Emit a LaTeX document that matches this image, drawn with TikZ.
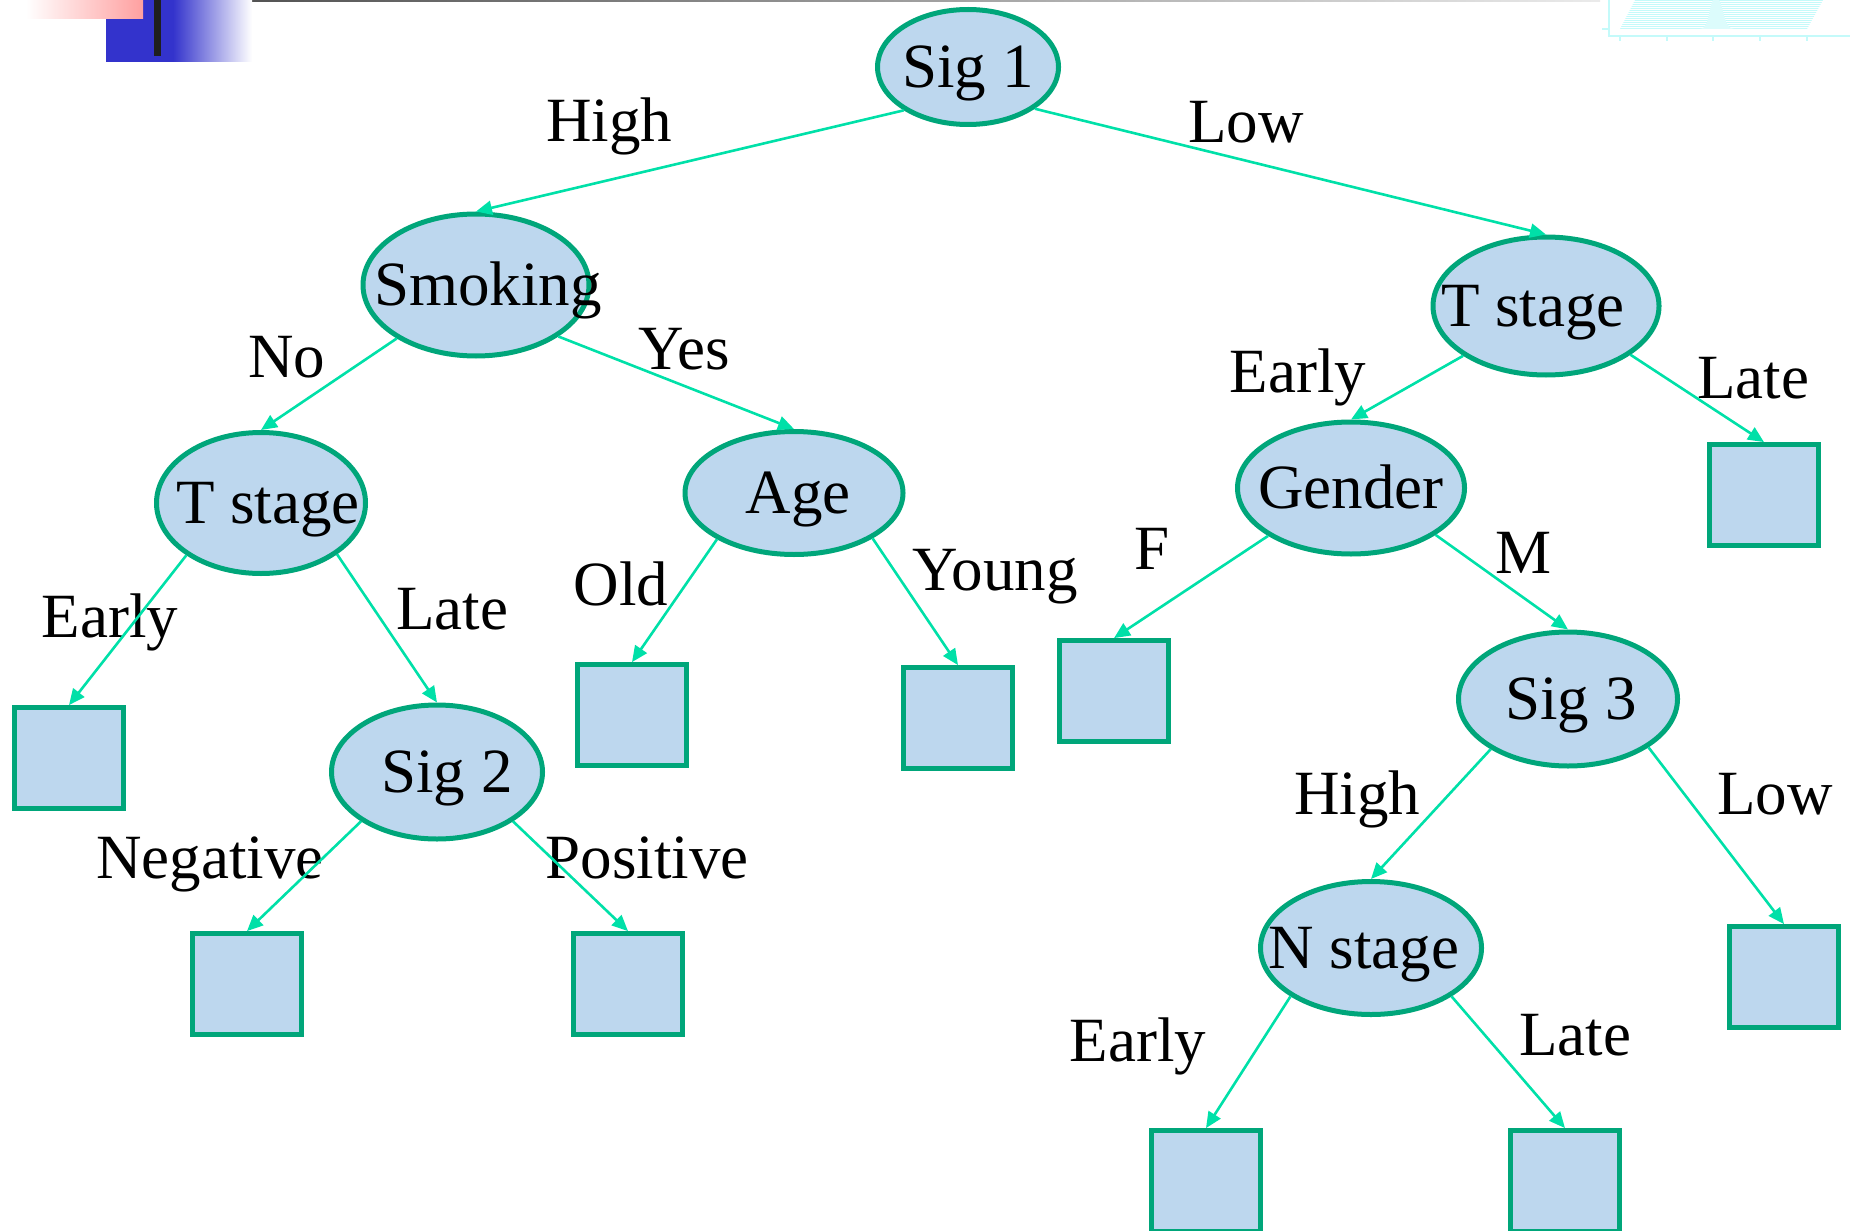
\documentclass[tikz,border=0pt]{standalone}
\usepackage{fontspec}
\setmainfont{Liberation Serif}
\usetikzlibrary{shapes.geometric,arrows.meta}

\definecolor{nodefill}{HTML}{BDD7EE}
\definecolor{nodeline}{HTML}{00A67A}
\definecolor{edgeline}{HTML}{00E0A8}
\definecolor{slideblue}{HTML}{3333CC}
\definecolor{slidered}{HTML}{FFA0A0}
\definecolor{chartcyan}{HTML}{C4FAFA}

% text centred on the node, shifted sideways by half the given amount
\newcommand\centred[2][0pt]{\makebox[0pt]{\hspace*{#1}#2}}

\begin{document}
\begin{tikzpicture}[x=0.5pt,y=-0.5pt,
  every node/.style={font=\fontsize{31.5}{36}\selectfont, inner sep=0pt,
                     text height=20.8pt, text depth=0pt},
  decision/.style={ellipse, draw=nodeline, fill=nodefill, line width=2.5pt},
  leaf/.style={rectangle, draw=nodeline, fill=nodefill, line width=2.5pt,
               minimum width=54.3pt, minimum height=50.4pt},
  branch/.style={draw=edgeline, line width=1.3pt,
                 -{Triangle[length=8pt,width=7pt]}},
  tag/.style={}]

\useasboundingbox (0,0) rectangle (1850,1230);

% slide header decoration, top left
\shade[left color=black!75, right color=black!8] (74,0) rectangle (1600,2);
\fill[slideblue] (106,0) rectangle (173,62);
\shade[left color=slideblue, right color=white] (173,0) rectangle (252,62);
\shade[left color=white, right color=slidered] (26,0) rectangle (143,19);
\fill[black!88] (154,0) rectangle (161,56);

% faint chart, top right
\begin{scope}
  \clip (1620,29) -- (1635,0) -- (1823,0) -- (1807,29) -- cycle;
  \foreach \k in {0,...,14} \draw[chartcyan, line width=0.5pt] (1600,{\k*2+0.5}) -- (1850,{\k*2+0.5});
\end{scope}
\fill[chartcyan!60] (1700,29) .. controls (1711,29) and (1708,-2) .. (1716,-2)
  .. controls (1724,-2) and (1722,29) .. (1734,29) -- cycle;
\draw[chartcyan, line width=0.8pt] (1609,0) -- (1609,36) -- (1850,36);
\draw[chartcyan, line width=0.8pt] (1602,29) -- (1609,29);
\foreach \t in {1620,1667,1713,1760,1807} \draw[chartcyan, line width=0.8pt] (\t,36) -- (\t,41);

% branch labels
\node[tag] (lHigh)   at (609,121)  {High};
\node[tag] (lLow)    at (1246,122) {Low};
\node[tag] (lNo)     at (287,357)  {No};
\node[tag] (lYes)    at (684,349)  {Yes};
\node[tag] (lEarlyR) at (1298,372) {Early};
\node[tag] (lLateR)  at (1753,378) {Late};
\node[tag] (lF)      at (1152,549) {F};
\node[tag] (lM)      at (1523,553) {M};
\node[tag] (lEarlyL) at (110,617)  {Early};
\node[tag] (lLateL)  at (452,609)  {Late};
\node[tag] (lOld)    at (621,585)  {Old};
\node[tag] (lYoung)  at (995,570)  {Young};
\node[tag] (lNeg)    at (210,858)  {Negative};
\node[tag] (lPos)    at (647,858)  {Positive};
\node[tag] (lHigh3)  at (1357,794) {High};
\node[tag] (lLow3)   at (1775,794) {Low};
\node[tag] (lEarlyN) at (1138,1041) {Early};
\node[tag] (lLateN)  at (1575,1035) {Late};

% decision nodes
\node[decision, minimum width=90.5pt, minimum height=57.5pt] (sig1)   at (968,67)   {\centred{Sig 1}};
\node[decision, minimum width=113pt, minimum height=71pt]    (smoke)  at (476,285)  {\centred[12pt]{Smoking}};
\node[decision, minimum width=113pt, minimum height=69pt]    (tsr)    at (1546,306) {\centred[-13pt]{T stage}};
\node[decision, minimum width=104.5pt, minimum height=70.5pt] (tsl)   at (261,503)  {\centred[7pt]{T stage}};
\node[decision, minimum width=109pt, minimum height=61.5pt]  (age)    at (794,493)  {\centred[4pt]{Age}};
\node[decision, minimum width=113.5pt, minimum height=66pt]  (gender) at (1351,488) {\centred{Gender}};
\node[decision, minimum width=105.5pt, minimum height=67pt]  (sig2)   at (437,772)  {\centred[10pt]{Sig 2}};
\node[decision, minimum width=109.5pt, minimum height=67pt]  (sig3)   at (1568,699) {\centred[3pt]{Sig 3}};
\node[decision, minimum width=110.5pt, minimum height=66.5pt] (nst)   at (1371,948) {\centred[-7pt]{N stage}};

% leaves
\node[leaf] (qEarlyL) at (69,758)   {};
\node[leaf] (qNeg)    at (247,984)  {};
\node[leaf] (qPos)    at (628,984)  {};
\node[leaf] (qOld)    at (632,715)  {};
\node[leaf] (qYoung)  at (958,718)  {};
\node[leaf] (qF)      at (1114,691) {};
\node[leaf] (qLateR)  at (1764,495) {};
\node[leaf] (qLow3)   at (1784,977) {};
\node[leaf] (qEarlyN) at (1206,1181) {};
\node[leaf] (qLateN)  at (1565,1181) {};

% branches
\draw[branch] (sig1.-146.5)  -- (smoke.north);
\draw[branch] (sig1.-32.3)   -- (tsr.north);
\draw[branch] (smoke.-146.3) -- (tsl.north);
\draw[branch] (smoke.-32)    -- (age.north);
\draw[branch] (tsr.-149)     -- (gender.north);
\draw[branch] (tsr.-30.3)    -- (qLateR.north);
\draw[branch] (tsl.-145.6)   -- (qEarlyL.north);
\draw[branch] (tsl.-34.4)    -- (sig2.north);
\draw[branch] (age.-149.8)   -- (qOld.north);
\draw[branch] (age.-30.7)    -- (qYoung.north);
\draw[branch] (gender.-150)  -- (qF.north);
\draw[branch] (gender.-29.8) -- (sig3.north);
\draw[branch] (sig2.-147)    -- (qNeg.north);
\draw[branch] (sig2.-33.3)   -- (qPos.north);
\draw[branch] (sig3.-147.5)  -- (nst.north);
\draw[branch] (sig3.-31.5)   -- (qLow3.north);
\draw[branch] (nst.-149)     -- (qEarlyN.north);
\draw[branch] (nst.-31)      -- (qLateN.north);
\end{tikzpicture}
\end{document}
